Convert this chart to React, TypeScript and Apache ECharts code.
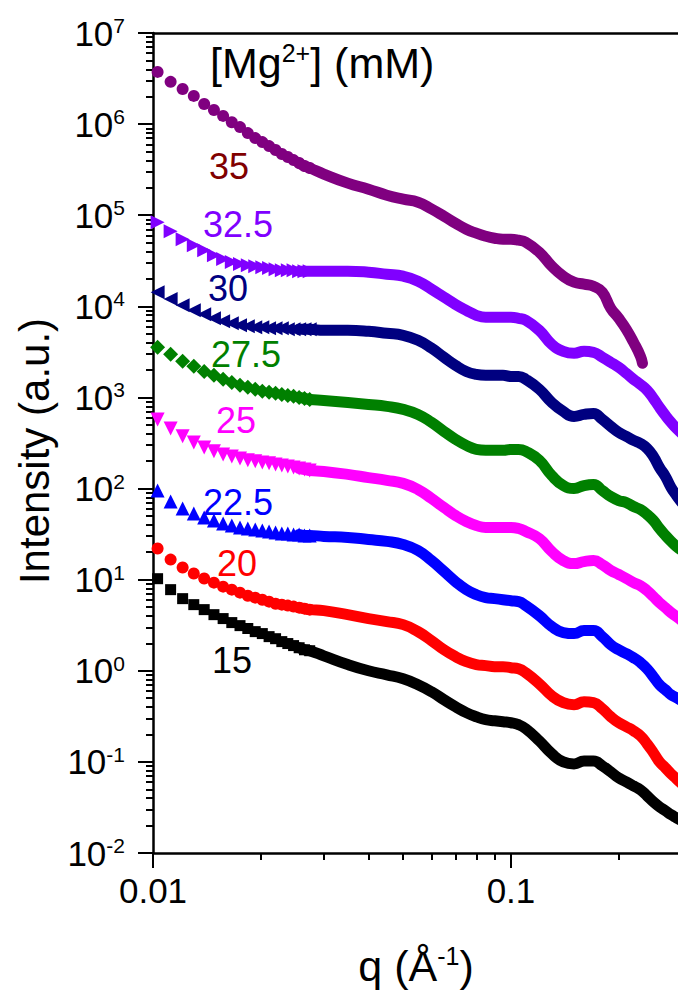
import React, { useEffect, useRef } from 'react';
import * as echarts from 'echarts';

// ---------- data (q in 1/Å, intensity in a.u.) ----------
const qLow = [0.0103, 0.0112, 0.0121, 0.013, 0.0139, 0.0148, 0.0157, 0.0166, 0.0175, 0.0184, 0.0193, 0.0202, 0.0211, 0.022, 0.0229, 0.0238, 0.0247, 0.0256, 0.0265, 0.0274];
const qHigh = [0.03, 0.035, 0.04, 0.045, 0.05, 0.055, 0.06, 0.065, 0.07, 0.075, 0.08, 0.085, 0.09, 0.095, 0.1, 0.105, 0.11, 0.12, 0.13, 0.14, 0.15, 0.16, 0.17, 0.18, 0.19, 0.2, 0.21, 0.22, 0.23, 0.24, 0.25, 0.26, 0.27, 0.28, 0.29, 0.3];
const qHigh35 = [0.03, 0.035, 0.04, 0.045, 0.05, 0.055, 0.06, 0.065, 0.07, 0.075, 0.08, 0.085, 0.09, 0.095, 0.1, 0.105, 0.11, 0.12, 0.13, 0.14, 0.15, 0.16, 0.17, 0.18, 0.19, 0.2, 0.21, 0.22, 0.23, 0.233];

const I15Low = [10.25, 7.77, 6.19, 5.32, 4.69, 4.13, 3.74, 3.38, 3.13, 2.91, 2.69, 2.56, 2.37, 2.25, 2.09, 1.99, 1.89, 1.79, 1.70, 1.66];
const I15High = [1.46, 1.17, 1.00, 0.904, 0.817, 0.702, 0.588, 0.481, 0.403, 0.347, 0.313, 0.291, 0.283, 0.276, 0.269, 0.256, 0.231, 0.170, 0.123, 0.100, 0.0951, 0.102, 0.102, 0.0904, 0.0777, 0.0667, 0.0603, 0.0545, 0.0493, 0.0424, 0.0364, 0.0321, 0.0291, 0.0263, 0.0243, 0.0225];

const I20Low = [22.0, 16.6, 13.6, 11.7, 10.3, 9.27, 8.38, 7.77, 7.20, 6.67, 6.35, 6.03, 5.74, 5.45, 5.32, 5.19, 5.06, 4.93, 4.81, 4.69];
const I20High = [4.57, 4.13, 3.74, 3.47, 3.21, 2.69, 2.14, 1.70, 1.43, 1.26, 1.17, 1.14, 1.11, 1.11, 1.08, 1.05, 0.951, 0.720, 0.532, 0.446, 0.424, 0.457, 0.446, 0.383, 0.313, 0.269, 0.243, 0.2195, 0.193, 0.158, 0.126, 0.100, 0.0859, 0.0739, 0.0651, 0.0574];

const I22Low = [95.1, 72.0, 60.3, 53.2, 48.1, 44.6, 41.3, 39.3, 37.4, 36.4, 35.5, 34.7, 33.8, 33.0, 32.1, 32.1, 31.3, 31.3, 30.6, 30.6];
const I22High = [29.8, 29.1, 27.6, 26.3, 24.3, 20.9, 16.2, 12.3, 9.51, 7.77, 6.84, 6.35, 6.19, 6.03, 5.88, 5.74, 5.19, 4.03, 3.06, 2.63, 2.56, 2.76, 2.76, 2.37, 1.93, 1.70, 1.54, 1.39, 1.23, 1.05, 0.859, 0.702, 0.619, 0.545, 0.506, 0.469];

const I25Low = [574, 457, 374, 321, 283, 256, 237, 225, 214, 204, 199, 193, 189, 184, 179, 175, 170, 166, 162, 158];
const I25High = [154, 143, 132, 123, 114, 97.5, 77.7, 61.9, 50.6, 43.5, 39.3, 37.4, 37.4, 37.4, 37.4, 36.4, 33.8, 28.3, 20.4, 16.2, 15.0, 15.8, 16.2, 14.6, 12.6, 11.4, 10.3, 9.27, 8.59, 7.58, 6.51, 5.59, 4.93, 4.35, 3.93, 3.55];

const I27Low = [3550, 2980, 2490, 2200, 1930, 1750, 1580, 1460, 1360, 1290, 1230, 1170, 1140, 1110, 1080, 1050, 1030, 1000, 975, 951];
const I27High = [927, 881, 838, 797, 739, 651, 532, 424, 347, 298, 269, 263, 263, 263, 269, 269, 256, 204, 139, 108, 100, 108, 111, 95.1, 81.7, 73.9, 70.2, 63.5, 58.8, 51.9, 44.6, 36.4, 30.6, 26.3, 23.1, 20.9];

const I30Low = [14300, 12000, 10300, 9040, 8170, 7390, 6840, 6510, 6190, 6030, 5880, 5880, 5740, 5740, 5740, 5590, 5590, 5590, 5590, 5590];
const I30High = [5450, 5450, 5320, 5060, 4810, 4240, 3470, 2760, 2250, 1930, 1790, 1750, 1750, 1750, 1700, 1700, 1580, 1230, 881, 702, 619, 651, 667, 574, 481, 413, 374, 338, 313, 276, 225, 170, 136, 103, 83.8, 70.2];

const I32Low = [83800, 66700, 54500, 46900, 41300, 36400, 33000, 30600, 29100, 28300, 27600, 26900, 26300, 25600, 24900, 24900, 24900, 24300, 24300, 24300];
const I32High = [24300, 24300, 23700, 22500, 21400, 18900, 15400, 12600, 10500, 9040, 7970, 7580, 7580, 7580, 7580, 7390, 7020, 5450, 3830, 3210, 3060, 3210, 3130, 2760, 2430, 2140, 1840, 1580, 1390, 1200, 975, 777, 635, 532, 457, 403];

const I35Low = [3.74e6, 2.91e6, 2.43e6, 2.04e6, 1.66e6, 1.43e6, 1.23e6, 1.05e6, 9.27e5, 7.97e5, 7.02e5, 6.35e5, 5.74e5, 5.19e5, 4.69e5, 4.35e5, 4.03e5, 3.74e5, 3.47e5, 3.30e5];
const I35High = [2.83e5, 2.25e5, 1.93e5, 1.66e5, 1.50e5, 1.39e5, 1.17e5, 9.75e4, 8.17e4, 7.02e4, 6.35e4, 5.88e4, 5.59e4, 5.45e4, 5.45e4, 5.32e4, 5.06e4, 3.93e4, 2.76e4, 2.14e4, 1.84e4, 1.75e4, 1.66e4, 1.43e4, 9510, 7390, 5590, 4030, 2830, 2370];

const seriesLabels = ['15', '20', '22.5', '25', '27.5', '30', '32.5', '35'];
const seriesColors = ['#000000', '#FF0000', '#0000FF', '#FF00FF', '#008000', '#000080', '#8000FF', '#800080'];
const labelColors = ['#000000', '#FF0000', '#0000FF', '#FF00FF', '#008000', '#000080', '#8000FF', '#800000'];

// tick values
const xMajorTicks = [0.01, 0.1];
const xMinorTicks = [0.02, 0.03, 0.04, 0.05, 0.06, 0.07, 0.08, 0.09, 0.2];
const yMajorTicks = [1e-2, 1e-1, 1, 10, 100, 1e3, 1e4, 1e5, 1e6, 1e7];
const yMinorMultipliers = [2, 3, 4, 5, 6, 7, 8, 9];

const X_MIN = 0.01;
const X_MAX = 0.2928;
const Y_MIN = 1e-2;
const Y_MAX = 1e7;

const FONT = '"Liberation Sans", Arial, Helvetica, sans-serif';

const App: React.FC = () => {
  const ref = useRef<HTMLDivElement>(null);

  useEffect(() => {
    if (!ref.current) return;
    const chart = echarts.init(ref.current, undefined, { renderer: 'svg' });

    const lows = [I15Low, I20Low, I22Low, I25Low, I27Low, I30Low, I32Low, I35Low];
    const highs = [I15High, I20High, I22High, I25High, I27High, I30High, I32High, I35High];
    const highQs = [qHigh, qHigh, qHigh, qHigh, qHigh, qHigh, qHigh, qHigh35];
    const symbols = ['rect', 'circle', 'triangle', 'triangle', 'diamond', 'triangle', 'triangle', 'circle'];
    const rotations = [0, 0, 0, 180, 0, 90, -90, 0];
    const sizes = [11, 12, 14, 14, 15, 14, 14, 12];

    const yMinorTicks: number[] = [];
    for (let i = 0; i < yMajorTicks.length - 1; i++) {
      for (const m of yMinorMultipliers) yMinorTicks.push(m * yMajorTicks[i]);
    }

    const series: any[] = [];
    seriesLabels.forEach((name, i) => {
      const low = lows[i].map((v, k) => [qLow[k], v]);
      const high = highs[i].map((v, k) => [highQs[i][k], v]);
      series.push({
        name: name + ' line',
        type: 'line',
        xAxisIndex: 0,
        yAxisIndex: 0,
        data: [...low.slice(-3), ...high],
        showSymbol: false,
        symbol: 'none',
        smooth: true,
        lineStyle: { color: seriesColors[i], width: 11, cap: 'round', join: 'round' },
        z: 2,
      });
      series.push({
        name,
        type: 'scatter',
        xAxisIndex: 0,
        yAxisIndex: 0,
        data: low,
        symbol: symbols[i],
        symbolRotate: rotations[i],
        symbolSize: sizes[i],
        itemStyle: { color: seriesColors[i], opacity: 1 },
        z: 3,
      });
    });

    const tickStyle = { color: '#000', width: 2 };
    const lineStyle = { color: '#000', width: 2.5 };

    const labelPos: [number, number][] = [
      [232, 660], [237, 563], [238, 502], [236, 420], [246, 354], [228, 288], [238, 224], [229, 166],
    ];

    const option: any = {
      animation: false,
      backgroundColor: '#ffffff',
      grid: { left: 153, top: 33, right: 0, bottom: 141, containLabel: false },
      xAxis: [
        {
          type: 'log', min: X_MIN, max: X_MAX, position: 'bottom',
          axisLine: { show: true, lineStyle },
          axisTick: { show: true, inside: false, length: 15, lineStyle: tickStyle, customValues: xMajorTicks },
          axisLabel: {
            show: true, customValues: xMajorTicks, margin: 20, fontSize: 35, color: '#000', fontFamily: FONT,
            formatter: (v: number) => String(Number(v.toPrecision(3))),
          },
          splitLine: { show: false }, minorTick: { show: false },
        },
        {
          type: 'log', min: X_MIN, max: X_MAX, position: 'bottom',
          axisLine: { show: false },
          axisTick: { show: true, inside: false, length: 7, lineStyle: tickStyle, customValues: xMinorTicks },
          axisLabel: { show: false },
          splitLine: { show: false },
        },
        {
          type: 'log', min: X_MIN, max: X_MAX, position: 'top',
          axisLine: { show: true, lineStyle },
          axisTick: { show: false }, axisLabel: { show: false }, splitLine: { show: false },
        },
      ],
      yAxis: [
        {
          type: 'log', min: Y_MIN, max: Y_MAX, position: 'left',
          axisLine: { show: true, lineStyle },
          axisTick: { show: true, inside: false, length: 15, lineStyle: tickStyle, customValues: yMajorTicks },
          axisLabel: {
            show: true, customValues: yMajorTicks, margin: 28, color: '#000', fontFamily: FONT,
            formatter: (v: number) => `{b|10}{s|${Math.round(Math.log10(v))}}`,
            rich: {
              b: { fontSize: 35, fontFamily: FONT, color: '#000', lineHeight: 36 },
              s: { fontSize: 21, fontFamily: FONT, color: '#000', verticalAlign: 'top', lineHeight: 24 },
            },
          },
          splitLine: { show: false }, minorTick: { show: false },
        },
        {
          type: 'log', min: Y_MIN, max: Y_MAX, position: 'left',
          axisLine: { show: false },
          axisTick: { show: true, inside: false, length: 7, lineStyle: tickStyle, customValues: yMinorTicks },
          axisLabel: { show: false },
          splitLine: { show: false },
        },
      ],
      series,
      graphic: [
        ...seriesLabels.map((t, i) => ({
          type: 'text',
          x: labelPos[i][0], y: labelPos[i][1],
          style: { text: t, fill: labelColors[i], font: `36px ${FONT}`, textAlign: 'center', textVerticalAlign: 'middle' },
          z: 10,
        })),
        {
          type: 'text', x: 210, y: 63,
          style: {
            text: '{t|[Mg}{s|2+}{t|] (mM)}', textAlign: 'left', textVerticalAlign: 'middle',
            rich: {
              t: { fontSize: 43, fontFamily: FONT, fill: '#000', lineHeight: 46 },
              s: { fontSize: 25, fontFamily: FONT, fill: '#000', verticalAlign: 'top', lineHeight: 28 },
            },
          },
          z: 10,
        },
        {
          type: 'text', x: 34, y: 451, rotation: Math.PI / 2,
          style: { text: 'Intensity (a.u.)', font: `42px ${FONT}`, fill: '#000', textAlign: 'center', textVerticalAlign: 'middle' },
          z: 10,
        },
        {
          type: 'text', x: 416, y: 966,
          style: {
            text: '{t|q (Å}{s|-1}{t|)}', textAlign: 'center', textVerticalAlign: 'middle',
            rich: {
              t: { fontSize: 43, fontFamily: FONT, fill: '#000', lineHeight: 46 },
              s: { fontSize: 25, fontFamily: FONT, fill: '#000', verticalAlign: 'top', lineHeight: 28 },
            },
          },
          z: 10,
        },
      ],
    };

    chart.setOption(option);
    return () => chart.dispose();
  }, []);

  return (
    <div
      ref={ref}
      style={{ position: 'fixed', left: 0, top: 0, width: 678, height: 994, background: '#fff' }}
    />
  );
};

export default App;
